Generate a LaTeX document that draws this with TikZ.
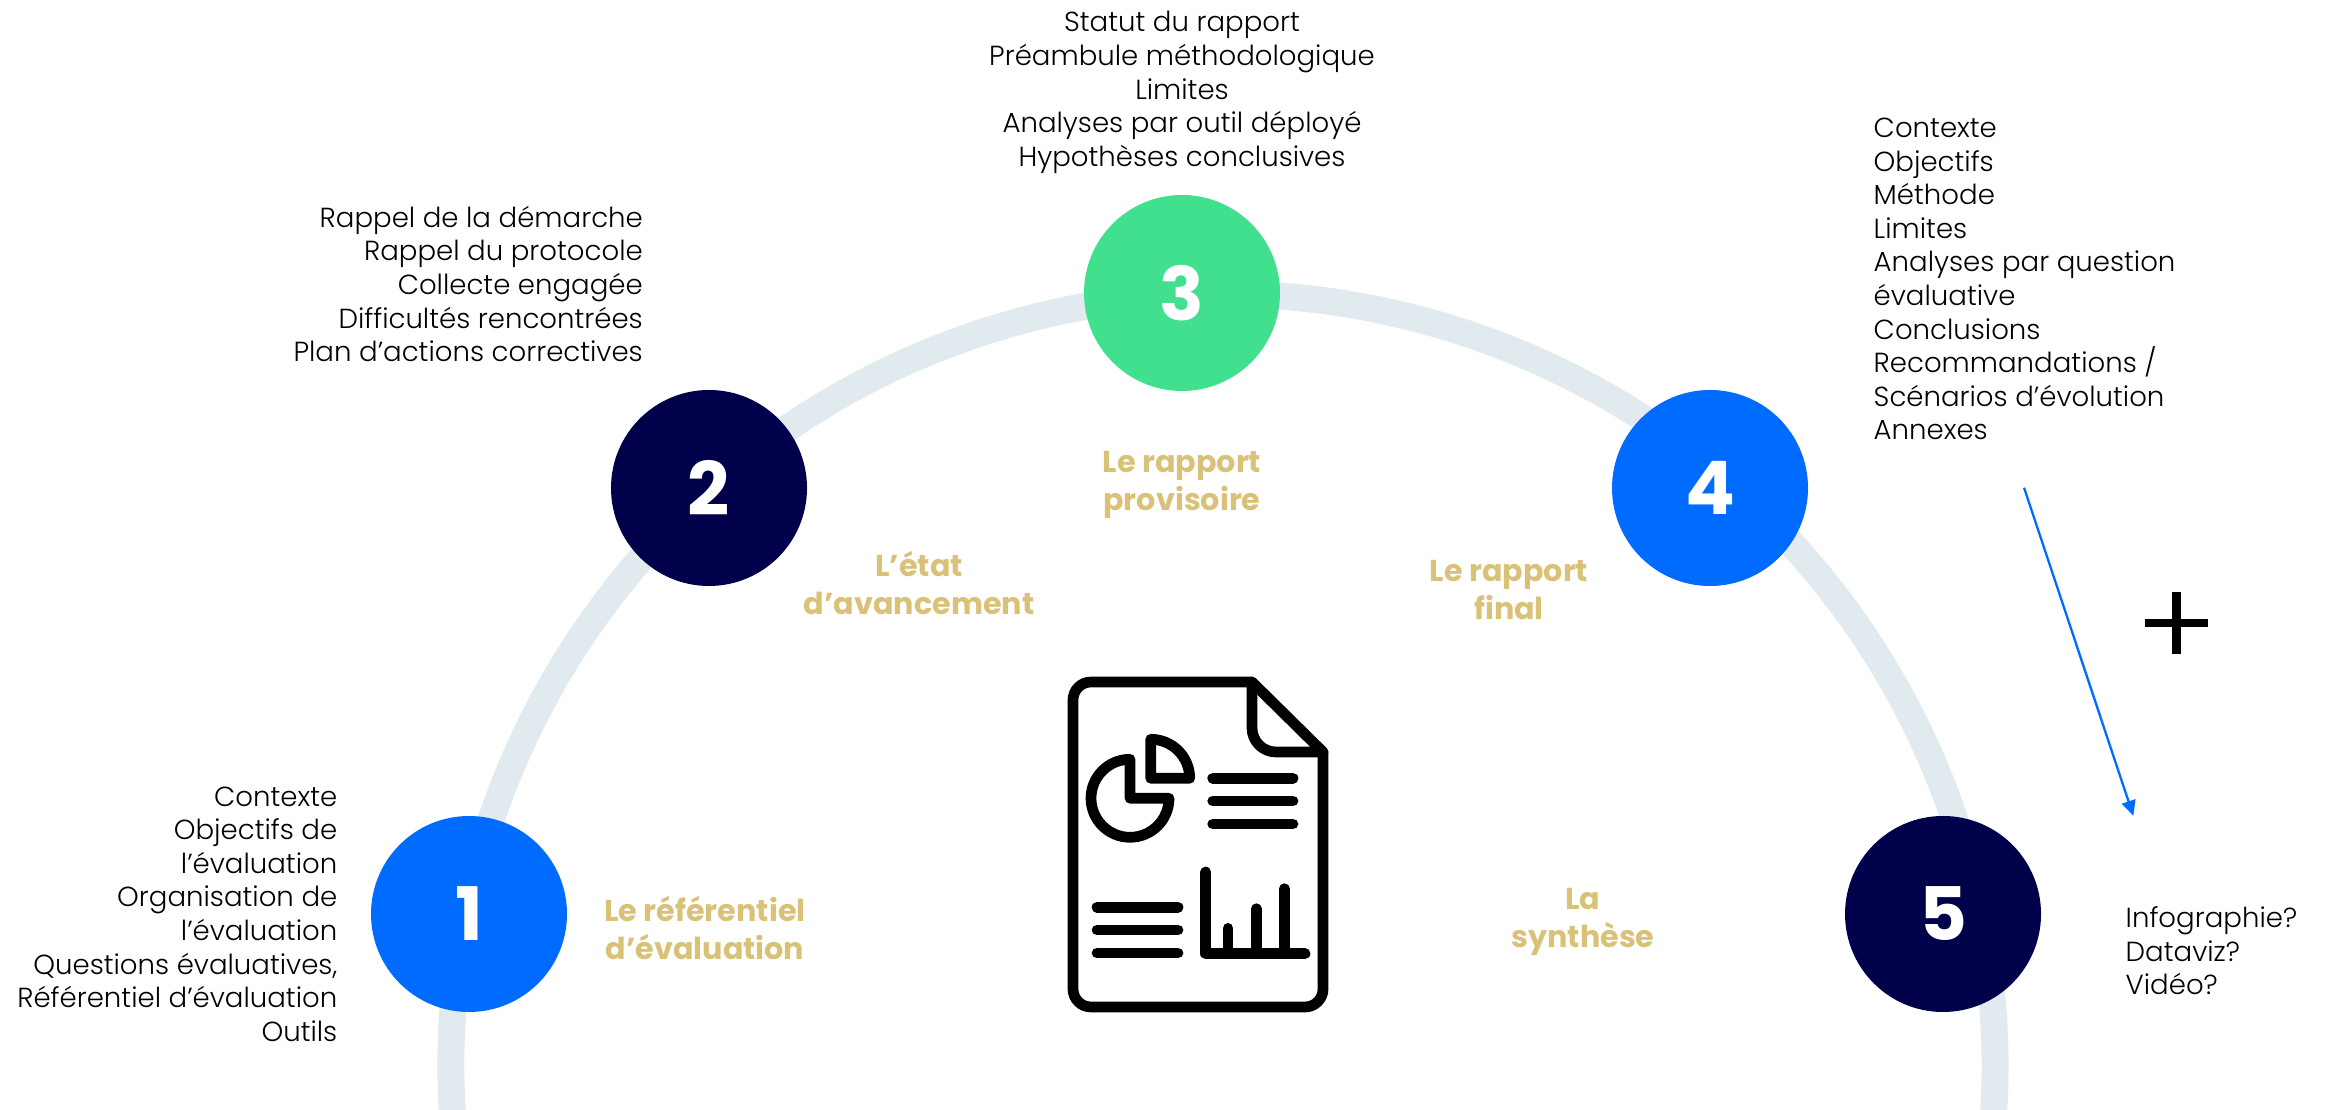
\documentclass[tikz,border=0pt]{standalone}
\usepackage{fontspec}
\setmainfont{Poppins}
\newfontfamily\lightfont{Poppins Light}
\usetikzlibrary{arrows.meta}
\definecolor{bandgrey}{RGB}{225,234,239}
\definecolor{stepblue}{RGB}{0,107,255}
\definecolor{stepnavy}{RGB}{0,0,75}
\definecolor{stepgreen}{RGB}{65,224,143}
\definecolor{titlegold}{RGB}{217,194,119}
\tikzset{
  stepdot/.style={circle,minimum size=1.96cm,inner sep=0,text=white,font=\fontsize{21}{25}\selectfont\bfseries},
  listtext/.style={inner sep=0,font=\fontsize{7.85}{9.56}\selectfont\lightfont},
  titletext/.style={inner sep=0,align=center,text=titlegold,font=\fontsize{8.6}{10.9}\selectfont\bfseries},
  iconline/.style={line width=1.07mm,line cap=round,line join=round},
}
\begin{document}
\begin{tikzpicture}
\path[use as bounding box,clip] (0,0) rectangle (23.25,11.09);
\draw[bandgrey,line width=2.7mm] ([shift={(12.23,0.43)}]190:7.72) arc (190:-10:7.72);
\node[stepdot,fill=stepblue] (one) at (4.69,1.95) {1};
\node[stepdot,fill=stepnavy] (two) at (7.09,6.21) {2};
\node[stepdot,fill=stepgreen] (three) at (11.82,8.16) {3};
\node[stepdot,fill=stepblue] (four) at (17.10,6.21) {4};
\node[stepdot,fill=stepnavy] (five) at (19.43,1.95) {5};
\node[titletext] (titleone) at (7.05,1.81) {Le référentiel\\d’évaluation};
\node[titletext] (titletwo) at (9.19,5.26) {L’état\\d’avancement};
\node[titletext] (titlethree) at (11.82,6.24) {Le rapport\\provisoire};
\node[titletext] (titlefour) at (15.09,5.19) {Le rapport\\final};
\node[titletext] (titlefive) at (15.83,1.87) {La\\synthèse};
\node[listtext,anchor=east,align=right] (listone) at (3.38,1.95) {Contexte\\Objectifs de\\l’évaluation\\Organisation de\\l’évaluation\\Questions évaluatives,\\Référentiel d’évaluation\\Outils};
\node[listtext,anchor=east,align=right] (listtwo) at (6.435,8.25) {Rappel de la démarche\\Rappel du protocole\\Collecte engagée\\Difficultés rencontrées\\Plan d’actions correctives};
\node[listtext,align=center] (listthree) at (11.82,10.165) {Statut du rapport\\Préambule méthodologique\\Limites\\Analyses par outil déployé\\Hypothèses conclusives};
\node[listtext,anchor=west,align=left] (listfour) at (18.73,8.30) {Contexte\\Objectifs\\Méthode\\Limites\\Analyses par question\\évaluative\\Conclusions\\Recommandations /\\Scénarios d’évolution\\Annexes};
\node[listtext,anchor=west,align=left] (listfive) at (21.25,1.58) {Infographie?\\Dataviz?\\Vidéo?};
\coordinate (arrowstart) at (20.24,6.213);
\coordinate (arrowend) at (21.333,2.933);
\draw[stepblue,line width=0.23mm,-{Triangle[width=1.4mm,length=1.5mm]}] (arrowstart)--(arrowend);
\draw[line width=0.87mm] (21.45,4.86)--(22.083,4.86);
\draw[line width=0.87mm] (21.767,5.173)--(21.767,4.547);
\draw[iconline] (10.91,4.27)--(12.52,4.27)--(13.23,3.57)--(13.23,1.20) arc (0:-90:0.18)--(10.91,1.02) arc (270:180:0.18)--(10.73,4.09) arc (180:90:0.18)--cycle;
\draw[iconline] (12.52,4.27)--(12.52,3.81) arc (180:270:0.24)--(13.23,3.57);
\draw[iconline] (11.30,3.497) arc (90:360:0.39)--(11.30,3.107)--cycle;
\draw[iconline] (11.507,3.697) arc (90:0:0.39)--(11.507,3.307)--cycle;
\draw[iconline] (12.127,3.307)--(12.93,3.307);
\draw[iconline] (12.127,3.08)--(12.93,3.08);
\draw[iconline] (12.127,2.85)--(12.93,2.85);
\draw[iconline] (10.97,2.017)--(11.78,2.017);
\draw[iconline] (10.97,1.79)--(11.78,1.79);
\draw[iconline] (10.97,1.56)--(11.78,1.56);
\draw[iconline] (12.057,2.37)--(12.057,1.553)--(13.05,1.553);
\draw[iconline] (12.28,1.807)--(12.28,1.553);
\draw[iconline] (12.563,2.003)--(12.563,1.553);
\draw[iconline] (12.843,2.203)--(12.843,1.553);
\end{tikzpicture}
\end{document}
